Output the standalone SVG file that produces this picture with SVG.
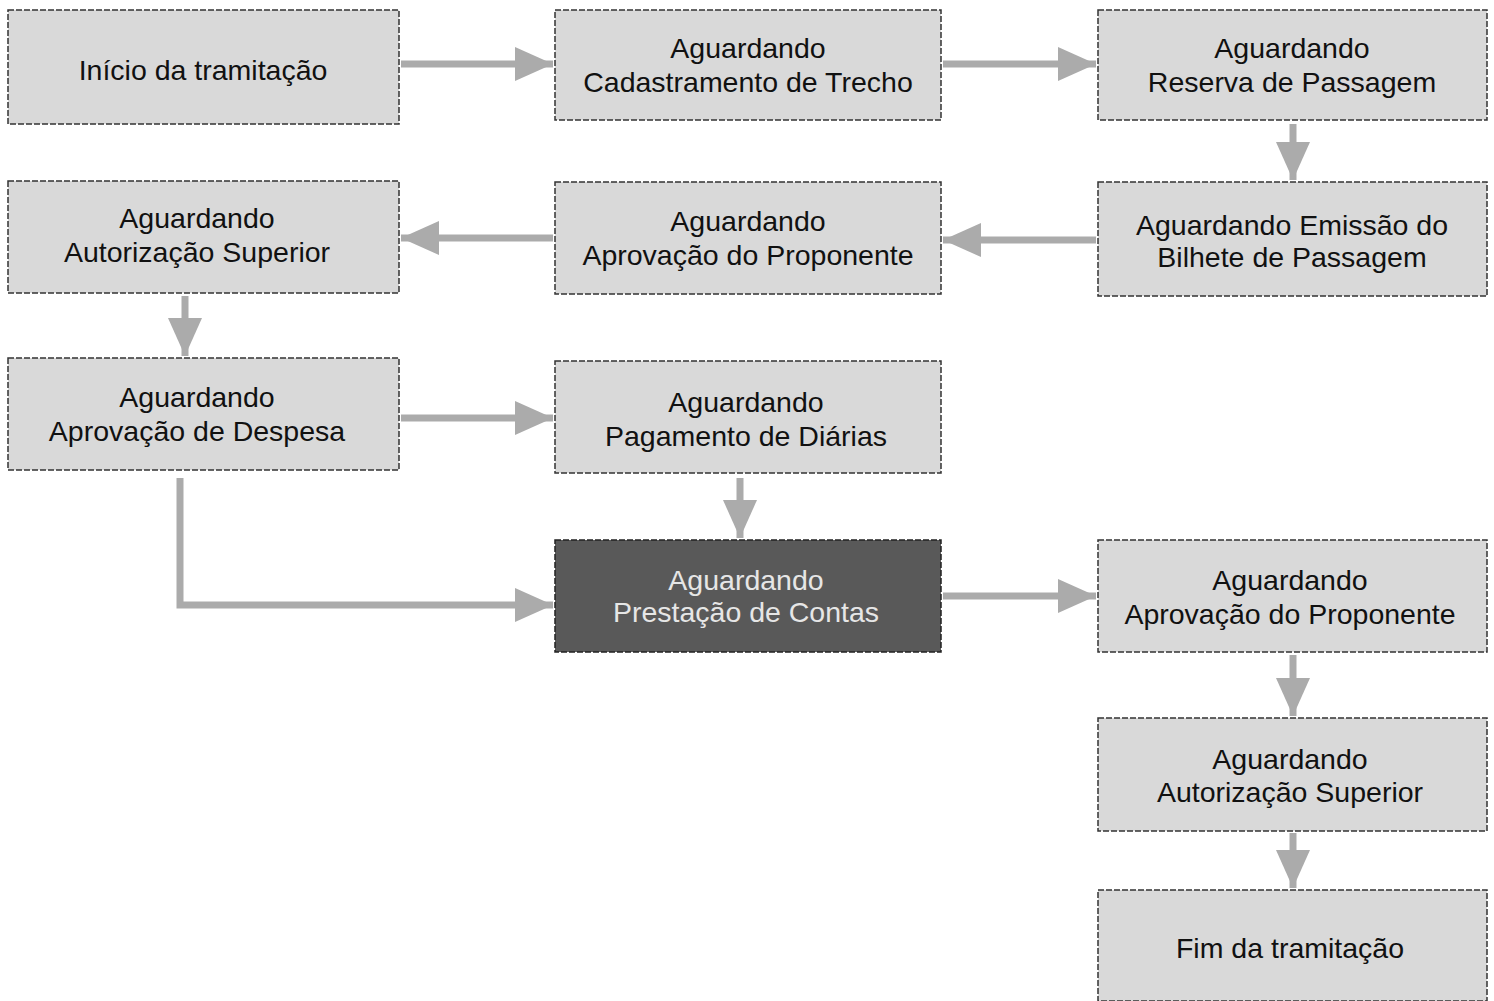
<svg xmlns="http://www.w3.org/2000/svg" width="1494" height="1001" viewBox="0 0 1494 1001">
<defs>
<marker id="ah" markerUnits="userSpaceOnUse" markerWidth="40" markerHeight="34" refX="38" refY="17" orient="auto">
<polygon points="0,0 38,17 0,34" fill="#ababab"/>
</marker>
</defs>
<style>
.box{fill:#d9d9d9;stroke:#333;stroke-width:1.5;stroke-dasharray:6 2}
.dark{fill:#595959;stroke:#222;stroke-width:1.5;stroke-dasharray:6 2}
.t{font-family:"Liberation Sans",Arial,sans-serif;font-size:28.5px;fill:#111;text-anchor:middle}
.tw{font-family:"Liberation Sans",Arial,sans-serif;font-size:28.5px;fill:#e6e6e6;text-anchor:middle}
.c{fill:none;stroke:#ababab;stroke-width:7;marker-end:url(#ah)}
</style>
<rect width="1494" height="1001" fill="#fff"/>
<g id="connectors">
<path class="c" d="M401,64 H553"/>
<path class="c" d="M943,64 H1096"/>
<path class="c" d="M1293,124 V180"/>
<path class="c" d="M1096,240 H943"/>
<path class="c" d="M553,238 H401"/>
<path class="c" d="M185,296 V356"/>
<path class="c" d="M401,418 H553"/>
<path class="c" d="M740,478 V538"/>
<path class="c" d="M180,478 V605 H553"/>
<path class="c" d="M943,596 H1096"/>
<path class="c" d="M1293,655 V716"/>
<path class="c" d="M1293,833 V888"/>
</g>
<g id="n1"><rect class="box" x="8" y="10" width="391" height="114"/><text class="t" x="203" y="80">Início da tramitação</text></g>
<g id="n2"><rect class="box" x="555" y="10" width="386" height="110"/><text class="t" x="748" y="58">Aguardando</text><text class="t" x="748" y="92">Cadastramento de Trecho</text></g>
<g id="n3"><rect class="box" x="1098" y="10" width="389" height="110"/><text class="t" x="1292" y="58">Aguardando</text><text class="t" x="1292" y="92">Reserva de Passagem</text></g>
<g id="n4"><rect class="box" x="1098" y="182" width="389" height="114"/><text class="t" x="1292" y="235">Aguardando Emissão do</text><text class="t" x="1292" y="267">Bilhete de Passagem</text></g>
<g id="n5"><rect class="box" x="555" y="182" width="386" height="112"/><text class="t" x="748" y="231">Aguardando</text><text class="t" x="748" y="265">Aprovação do Proponente</text></g>
<g id="n6"><rect class="box" x="8" y="181" width="391" height="112"/><text class="t" x="197" y="228">Aguardando</text><text class="t" x="197" y="262">Autorização Superior</text></g>
<g id="n7"><rect class="box" x="8" y="358" width="391" height="112"/><text class="t" x="197" y="407">Aguardando</text><text class="t" x="197" y="441">Aprovação de Despesa</text></g>
<g id="n8"><rect class="box" x="555" y="361" width="386" height="112"/><text class="t" x="746" y="412">Aguardando</text><text class="t" x="746" y="446">Pagamento de Diárias</text></g>
<g id="n9"><rect class="dark" x="555" y="540" width="386" height="112"/><text class="tw" x="746" y="590">Aguardando</text><text class="tw" x="746" y="622">Prestação de Contas</text></g>
<g id="n10"><rect class="box" x="1098" y="540" width="389" height="112"/><text class="t" x="1290" y="590">Aguardando</text><text class="t" x="1290" y="624">Aprovação do Proponente</text></g>
<g id="n11"><rect class="box" x="1098" y="718" width="389" height="113"/><text class="t" x="1290" y="769">Aguardando</text><text class="t" x="1290" y="802">Autorização Superior</text></g>
<g id="n12"><rect class="box" x="1098" y="890" width="389" height="111"/><text class="t" x="1290" y="958">Fim da tramitação</text></g>
</svg>
